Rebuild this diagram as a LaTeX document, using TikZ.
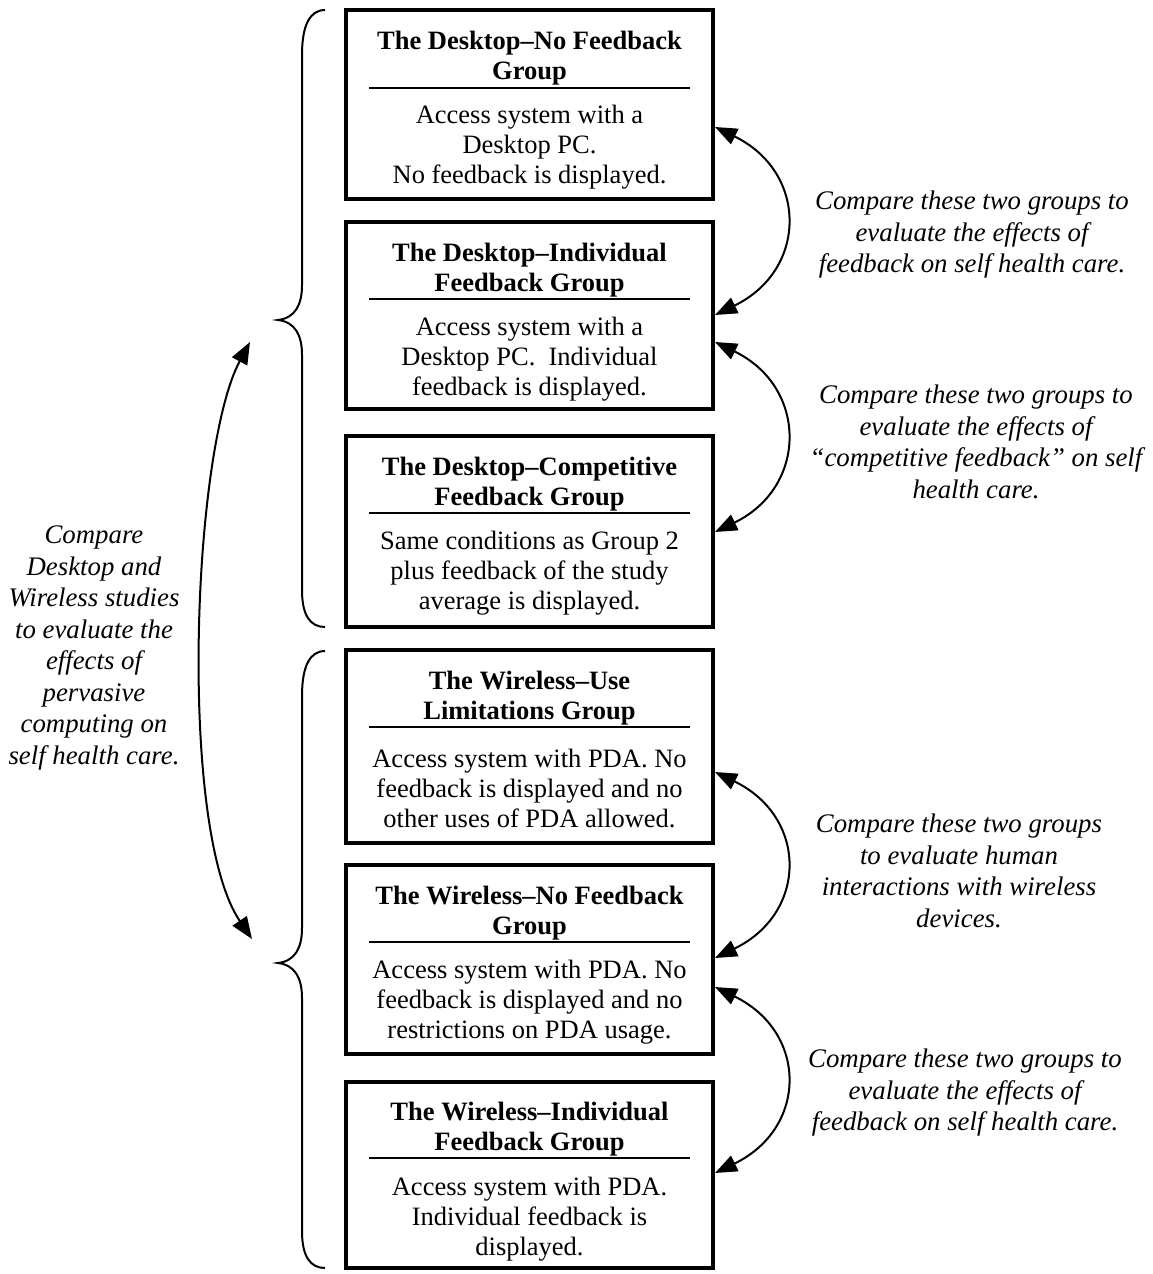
\documentclass[tikz,border=0pt]{standalone}
\usepackage{fontspec}
\setmainfont{Liberation Serif}
\usetikzlibrary{arrows.meta}
\begin{document}
\begin{tikzpicture}[x=1pt,y=-1pt,
  grp/.style={draw, line width=3.5pt, minimum width=367pt, inner sep=0pt},
  ttl/.style={font=\fontsize{26.5}{30}\selectfont\bfseries, align=center, inner sep=0pt},
  bdy/.style={font=\fontsize{26.5}{30}\selectfont, align=center, inner sep=0pt},
  lbl/.style={font=\fontsize{26.8}{31.5}\selectfont\itshape, align=center, inner sep=0pt},
  sepline/.style={line width=2.5pt},
  brc/.style={line width=2pt},
  cmp/.style={line width=2pt, {Triangle[length=22pt,width=17pt]}-{Triangle[length=22pt,width=17pt]}}
]
\useasboundingbox (0,0) rectangle (1153,1274);

% boxes
\node[grp, minimum height=189pt] (b1) at (529.5,104.5) {};
\node[grp, minimum height=187pt] (b2) at (529.5,315.5) {};
\node[grp, minimum height=191pt] (b3) at (529.5,531.5) {};
\node[grp, minimum height=193pt] (b4) at (529.5,746.5) {};
\node[grp, minimum height=189pt] (b5) at (529.5,959.5) {};
\node[grp, minimum height=186pt] (b6) at (529.5,1175) {};

% titles
\node[ttl] (t1) at (529.5,58) {The Desktop–No Feedback\\Group};
\node[ttl] (t2) at (529.5,270) {The Desktop–Individual\\Feedback Group};
\node[ttl] (t3) at (529.5,484) {The Desktop–Competitive\\Feedback Group};
\node[ttl] (t4) at (529.5,698) {The Wireless–Use\\Limitations Group};
\node[ttl] (t5) at (529.5,913) {The Wireless–No Feedback\\Group};
\node[ttl] (t6) at (529.5,1129) {The Wireless–Individual\\Feedback Group};

% separators
\draw[sepline] (369,88) -- (690,88);
\draw[sepline] (369,299) -- (690,299);
\draw[sepline] (369,513) -- (690,513);
\draw[sepline] (369,727) -- (690,727);
\draw[sepline] (369,942) -- (690,942);
\draw[sepline] (369,1158) -- (690,1158);

% bodies
\node[bdy] (d1) at (529.5,147) {Access system with a\\Desktop PC.\\No feedback is displayed.};
\node[bdy] (d2) at (529.5,359) {Access system with a\\Desktop PC.\ \ Individual\\feedback is displayed.};
\node[bdy] (d3) at (529.5,573) {Same conditions as Group 2\\plus feedback of the study\\average is displayed.};
\node[bdy] (d4) at (529.5,788) {Access system with PDA. No\\feedback is displayed and no\\other uses of PDA allowed.};
\node[bdy] (d5) at (529.5,1002) {Access system with PDA. No\\feedback is displayed and no\\restrictions on PDA usage.};
\node[bdy] (d6) at (529.5,1219) {Access system with PDA.\\Individual feedback is\\displayed.};

% braces
\draw[brc] (325,10) .. controls (310,10) and (302,25) .. (302,55) -- (302,285)
  .. controls (302,305) and (295,318) .. (278,320)
  .. controls (295,322) and (302,335) .. (302,355) -- (302,590)
  .. controls (302,615) and (310,627) .. (325,627);
\draw[brc] (325,651) .. controls (310,651) and (302,666) .. (302,696) -- (302,928)
  .. controls (302,948) and (295,961) .. (278,963)
  .. controls (295,965) and (302,978) .. (302,998) -- (302,1231)
  .. controls (302,1256) and (310,1268) .. (325,1268);

% connector end points
\coordinate (r1a) at (715,127);
\coordinate (r1b) at (715,315);
\coordinate (r2a) at (715,342);
\coordinate (r2b) at (715,532);
\coordinate (r3a) at (715,772);
\coordinate (r3b) at (715,958);
\coordinate (r4a) at (715,987);
\coordinate (r4b) at (715,1173);
\coordinate (la) at (250,342);
\coordinate (lb) at (252,939);

\draw[cmp] (r1a) .. controls +(93,45) and +(93,-45) .. (r1b);
\draw[cmp] (r2a) .. controls +(93,45) and +(93,-45) .. (r2b);
\draw[cmp] (r3a) .. controls +(93,45) and +(93,-45) .. (r3b);
\draw[cmp] (r4a) .. controls +(93,45) and +(93,-45) .. (r4b);
\draw[cmp] (la) .. controls (192,450) and (178,830) .. (lb);

% labels
\node[lbl] (l1) at (972,235) {Compare these two groups to\\evaluate the effects of\\feedback on self health care.};
\node[lbl] (l2) at (976,442) {Compare these two groups to\\evaluate the effects of\\“competitive feedback” on self\\health care.};
\node[lbl] (l3) at (959,871) {Compare these two groups\\to evaluate human\\interactions with wireless\\devices.};
\node[lbl] (l4) at (965,1093) {Compare these two groups to\\evaluate the effects of\\feedback on self health care.};
\node[lbl] (l0) at (94,648) {Compare\\Desktop and\\Wireless studies\\to evaluate the\\effects of\\pervasive\\computing on\\self health care.};
\end{tikzpicture}
\end{document}
